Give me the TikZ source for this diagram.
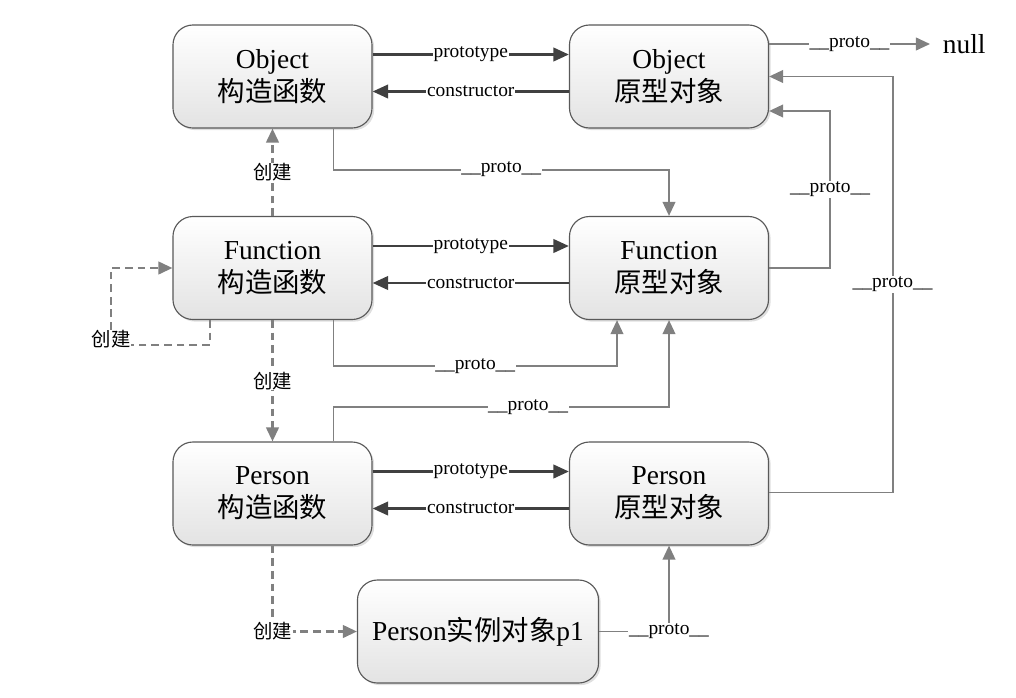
\documentclass[tikz,border=0pt]{standalone}
\usepackage{fontspec}
\setmainfont{Liberation Serif}
\newfontfamily\cjk{Noto Sans CJK SC}
\usepackage{tikz}
\usetikzlibrary{calc, arrows.meta, shadows}

\begin{document}
\begin{tikzpicture}[x=0.025cm, y=-0.025cm,
    box/.style={draw=black!65, line width=0.8pt, rounded corners=0.5cm, top color=white, bottom color=black!11,
        minimum width=4.975cm, minimum height=2.575cm, align=center,
        font=\fontsize{19.5}{23.5}\selectfont,
        drop shadow={shadow xshift=1.5pt, shadow yshift=-1.5pt, opacity=0.25}},
    darr/.style={draw=black!75, line width=1.9pt, -{Triangle[length=11pt,width=9.5pt]}},
    garr/.style={draw=black!50, line width=1.4pt, -{Triangle[length=10pt,width=9pt]}},
    mkarr/.style={draw=black!50, line width=1.6pt, dash pattern=on 5.5pt off 3.5pt, -{Triangle[length=10pt,width=9pt]}},
    lbl/.style={fill=white, inner sep=0.5pt, font=\fontsize{13.8}{16}\selectfont}]
            \useasboundingbox (0,0) rectangle (1016,697);
            \node[box] (oc) at (272.5,76.5) {Object\\{\cjk 构造函数}};
            \node[box] (op) at (669,76.5) {Object\\{\cjk 原型对象}};
            \node[box] (fc) at (272.5,268) {Function\\{\cjk 构造函数}};
            \node[box] (fp) at (669,268) {Function\\{\cjk 原型对象}};
            \node[box] (pc) at (272.5,493.5) {Person\\{\cjk 构造函数}};
            \node[box] (pp) at (669,493.5) {Person\\{\cjk 原型对象}};
            \node[box, minimum width=6.025cm] (p1) at (478,631.5) {Person{\cjk 实例对象}p1};
            \node[anchor=west, inner xsep=9pt, font=\fontsize{19.5}{23.5}\selectfont] (null) at (930,44) {null};
            % prototype / constructor
            \foreach \c/\p in {oc/op, fc/fp, pc/pp} {
                \draw[darr] ($(\c.east)+(0,-22)$) -- node[lbl]{prototype} ($(\p.west)+(0,-22)$);
                \draw[darr] ($(\p.west)+(0,15)$) -- node[lbl]{constructor} ($(\c.east)+(0,15)$);
            }
            % __proto__
            \draw[garr] ($(op.east)+(0,-32.5)$) -- node[lbl]{\_\_proto\_\_} (null.west);
            \draw[garr] ($(oc.south)+(61,0)$) -- ++(0,41) -| node[lbl, pos=0.25]{\_\_proto\_\_} (fp.north);
            \draw[garr] ($(fc.south)+(61,0)$) -- ++(0,46) -| node[lbl, pos=0.25]{\_\_proto\_\_} ($(fp.south)+(-52,0)$);
            \draw[garr] ($(pc.north)+(61,0)$) -- ++(0,-34) -| node[lbl, pos=0.29]{\_\_proto\_\_} (fp.south);
            \draw[garr] (fp.east) -- ++(61,0) |- node[lbl, pos=0.25]{\_\_proto\_\_} ($(op.east)+(0,34.5)$);
            \draw[garr] ($(pp.east)+(0,-1)$) -- ++(123.5,0) |- node[lbl, pos=0.25]{\_\_proto\_\_} (op.east);
            \draw[garr] (p1.east) -| node[lbl, pos=0.5]{\_\_proto\_\_} (pp.south);
            % 创建
            \draw[mkarr] (fc.north) -- node[lbl]{\cjk 创建} (oc.south);
            \draw[mkarr] (fc.south) -- node[lbl]{\cjk 创建} (pc.north);
            \draw[mkarr] (pc.south) |- node[lbl, pos=0.5]{\cjk 创建} (p1.west);
            \draw[mkarr] ($(fc.south)+(-62.5,0)$) -- ++(0,25) -- node[lbl, pos=1, yshift=4pt]{\cjk 创建} ++(-99,0) |- (fc.west);
        \end{tikzpicture}
\end{document}
